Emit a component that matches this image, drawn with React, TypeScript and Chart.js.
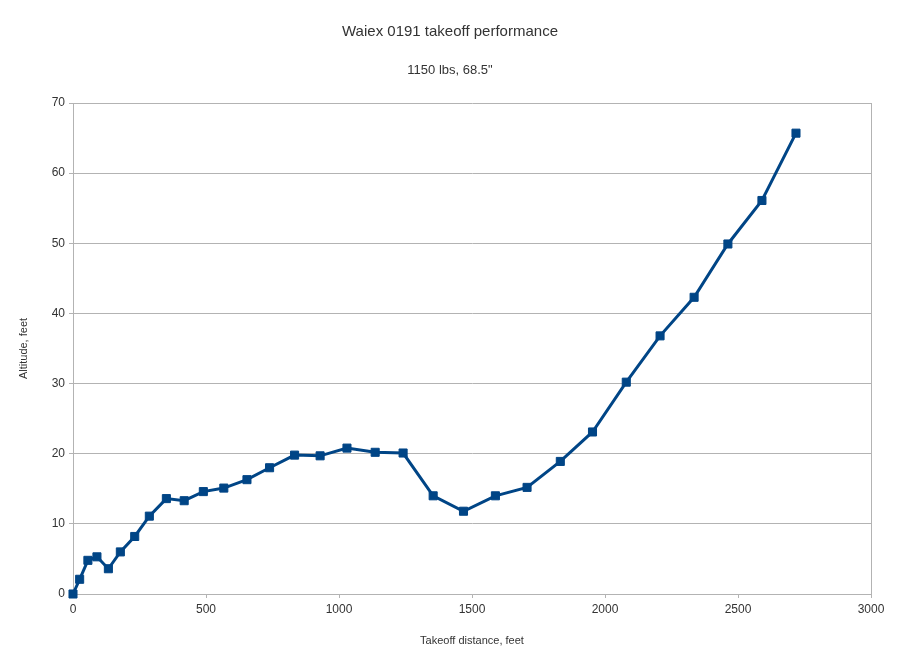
import React, { useEffect, useRef } from "react";
import { Chart, registerables } from "chart.js";

Chart.register(...registerables);

const distanceFeet = [0, 25, 56, 90, 133, 178, 232, 287, 351, 418, 490, 567, 654, 739, 833, 929, 1030, 1136, 1241, 1354, 1468, 1588, 1707, 1832, 1953, 2080, 2207, 2335, 2462, 2590, 2718];
const altitudeFeet = [0, 2.1, 4.8, 5.3, 3.6, 6.0, 8.2, 11.1, 13.6, 13.3, 14.6, 15.1, 16.3, 18.0, 19.8, 19.7, 20.8, 20.2, 20.1, 14.0, 11.8, 14.0, 15.2, 18.9, 23.1, 30.2, 36.8, 42.3, 49.9, 56.1, 65.7];

const titleText = "Waiex 0191 takeoff performance";
const subtitleText = '1150 lbs, 68.5"';
const xTitle = "Takeoff distance, feet";
const yTitle = "Altitude, feet";

const FONT = "'Liberation Sans', Arial, sans-serif";
const GRID = "#b3b3b3";
const TEXT = "#333333";
const LINE = "#004586";

const framePlugin = {
  id: "frame",
  afterDraw(chart: any) {
    const { ctx, chartArea } = chart;
    ctx.save();
    ctx.strokeStyle = GRID;
    ctx.lineWidth = 1;
    ctx.beginPath();
    ctx.moveTo(Math.round(chartArea.right) + 0.5, chartArea.top);
    ctx.lineTo(Math.round(chartArea.right) + 0.5, chartArea.bottom);
    ctx.stroke();
    ctx.restore();
  },
};

export default function App() {
  const ref = useRef<HTMLCanvasElement | null>(null);

  useEffect(() => {
    document.body.style.margin = "0";
    const canvas = ref.current;
    if (!canvas) return;
    const points = distanceFeet.map((x, i) => ({ x, y: altitudeFeet[i] }));
    const chart = new Chart(canvas, {
      type: "line",
      data: {
        datasets: [
          {
            data: points,
            borderColor: LINE,
            backgroundColor: LINE,
            borderWidth: 3,
            pointStyle: "rect",
            pointRadius: 5.7,
            pointBorderWidth: 1,
            pointBackgroundColor: LINE,
            pointBorderColor: LINE,
            tension: 0,
            clip: false as any,
          },
        ],
      },
      options: {
        animation: false,
        responsive: false,
        devicePixelRatio: 1,
        layout: { padding: 0 },
        plugins: {
          legend: { display: false },
          tooltip: { enabled: false },
          title: {
            display: true,
            text: titleText,
            color: TEXT,
            font: { family: FONT, size: 15, weight: "normal" as any, lineHeight: 1.2 },
            padding: { top: 22.5, bottom: 11 },
          },
          subtitle: {
            display: true,
            text: subtitleText,
            color: TEXT,
            font: { family: FONT, size: 13, weight: "normal" as any, lineHeight: 1.2 },
            padding: { top: 11.2, bottom: 24.7 },
          },
        },
        scales: {
          x: {
            type: "linear",
            min: 0,
            max: 3000,
            afterFit(scale: any) {
              scale.height = 71;
            },
            ticks: {
              stepSize: 500,
              color: TEXT,
              font: { family: FONT, size: 12 },
              padding: 4,
              maxRotation: 0,
              callback: (v: any) => String(v),
            },
            grid: {
              drawOnChartArea: false,
              drawTicks: true,
              tickLength: 4,
              color: GRID,
            },
            border: { display: true, color: GRID },
            title: {
              display: true,
              text: xTitle,
              color: TEXT,
              font: { family: FONT, size: 11 },
              padding: { top: 4, bottom: 17.7 },
            },
          },
          y: {
            type: "linear",
            min: 0,
            max: 70,
            afterFit(scale: any) {
              scale.width = 73;
            },
            ticks: {
              stepSize: 10,
              color: TEXT,
              font: { family: FONT, size: 12 },
              padding: 4,
              callback: (v: any) => String(v),
            },
            grid: {
              drawOnChartArea: true,
              drawTicks: true,
              tickLength: 4,
              color: GRID,
            },
            border: { display: true, color: GRID },
            title: {
              display: true,
              text: yTitle,
              color: TEXT,
              font: { family: FONT, size: 11 },
              padding: { top: 17, bottom: 4 },
            },
          },
          spacer: {
            type: "linear",
            position: "right",
            display: true,
            min: 0,
            max: 70,
            afterFit(scale: any) {
              scale.width = 29;
            },
            ticks: { display: false },
            grid: { display: false, drawTicks: false },
            border: { display: false },
            title: { display: false },
          },
        },
      },
      plugins: [framePlugin],
    });
    return () => chart.destroy();
  }, []);

  return (
    <div style={{ width: 900, height: 665, background: "#fff" }}>
      <canvas ref={ref} width={900} height={665} style={{ display: "block" }} />
    </div>
  );
}
